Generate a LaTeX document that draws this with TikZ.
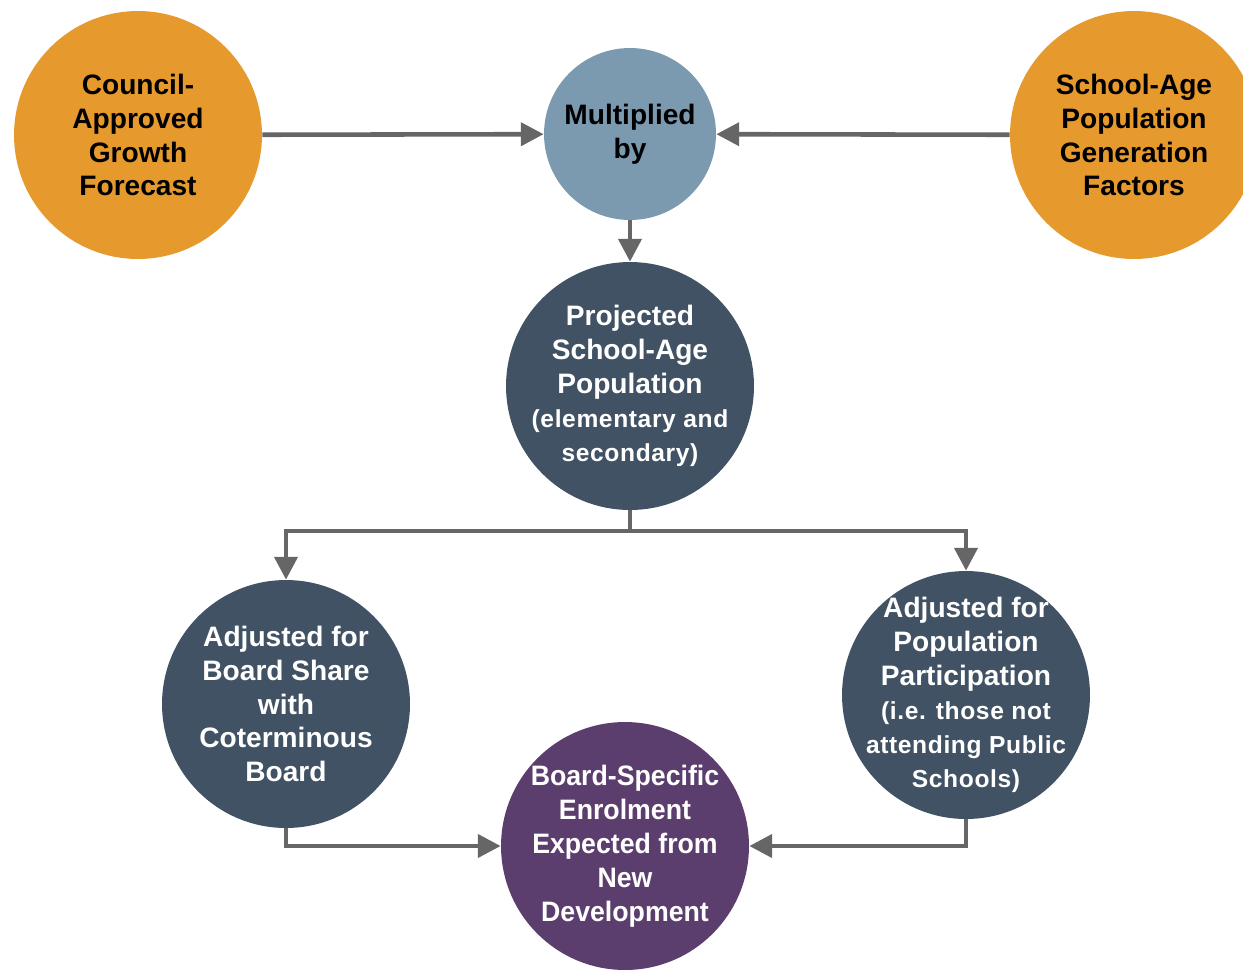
\documentclass[tikz,border=0pt]{standalone}
\usepackage{fontspec}
\setmainfont{Liberation Sans}
\newfontfamily\spacedfont[LetterSpace=2.5]{Liberation Sans}
\newfontfamily\narrowfont[FakeStretch=0.95]{Liberation Sans}
\usetikzlibrary{arrows.meta}

\definecolor{growthorange}{HTML}{E69A2D}
\definecolor{multblue}{HTML}{7B9AAF}
\definecolor{slate}{HTML}{405263}
\definecolor{boardpurple}{HTML}{5B3E6D}
\definecolor{arrowgrey}{HTML}{666666}

\newcommand{\smalltxt}{\spacedfont\bfseries\fontsize{14}{19}\selectfont}

\begin{document}
\begin{tikzpicture}[x = 0.02cm, y = -0.02cm,
	bubble/.style = {circle, inner sep = -30pt, minimum size = 4.96cm, align = center,
		font = \bfseries\fontsize{16}{19.3}\selectfont},
	flow/.style = {draw = arrowgrey, line width = 2.6pt, -{Triangle[length = 13pt, width = 13pt]}}]
	\clip (0,0) rectangle (1243,971);
	% top row
	\node[bubble, fill = growthorange] (council) at (138,135) {Council-\\Approved\\Growth\\Forecast};
	\node[bubble, fill = multblue, minimum size = 3.44cm] (mult) at (630,134) {Multiplied\\by};
	\node[bubble, fill = growthorange] (factors) at (1134,135) {School-Age\\Population\\Generation\\Factors};
	% middle
	\node[bubble, fill = slate, text = white] (proj) at (630,386)
		{Projected\\School-Age\\Population\\\smalltxt (elementary and\\\smalltxt secondary)};
	\node[bubble, fill = slate, text = white] (share) at (286,704)
		{Adjusted for\\Board Share\\with\\Coterminous\\Board};
	\node[bubble, fill = slate, text = white] (partic) at (966,695)
		{Adjusted for\\Population\\Participation\\\smalltxt (i.e. those not\\\smalltxt attending Public\\\smalltxt Schools)};
	% result
	\node[bubble, fill = boardpurple, text = white, font = \narrowfont\bfseries\fontsize{16}{19.3}\selectfont] (board) at (625,846)
		{Board-Specific\\Enrolment\\Expected from\\New\\Development};
	\coordinate (split) at (630,531);
	% connectors
	\draw[flow] (council) -- (mult);
	\draw[flow] (factors) -- (mult);
	\draw[flow] (mult) -- (proj);
	\draw[draw = arrowgrey, line width = 2.6pt] (proj) -- (split);
	\draw[flow] (split) -| (share);
	\draw[flow] (split) -| (partic);
	\draw[flow] (share) |- (board);
	\draw[flow] (partic) |- (board);
\end{tikzpicture}
\end{document}
